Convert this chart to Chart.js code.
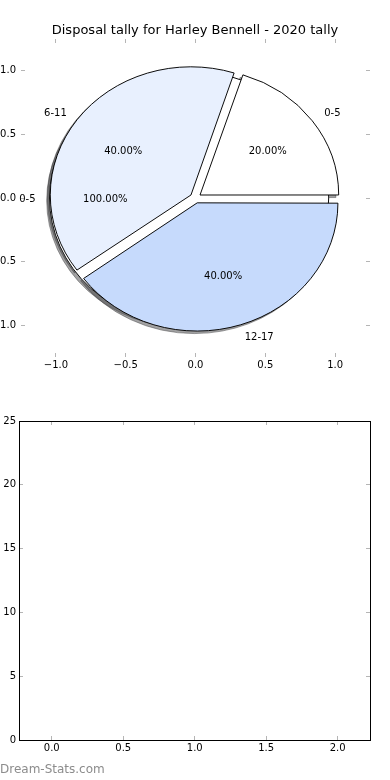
<!DOCTYPE html>
<html><head><meta charset="utf-8">
<script src="https://cdn.jsdelivr.net/npm/chart.js@4.4.1/dist/chart.umd.min.js"></script>
<style>
html,body{margin:0;padding:0;background:#fff;}
#wrap{position:relative;width:390px;height:780px;overflow:hidden;background:#fff;}
canvas{position:absolute;left:0;}
#wm{position:absolute;left:0;top:762px;font:12px "DejaVu Sans";color:#8c8c8c;white-space:nowrap;line-height:14px;}
</style></head><body>
<div id="wrap">
<canvas id="axesTop" width="390" height="400" style="top:0"></canvas>
<canvas id="pieBack" width="390" height="400" style="top:0"></canvas>
<canvas id="pieFront" width="390" height="400" style="top:0"></canvas>
<canvas id="bottom" width="390" height="380" style="top:400px"></canvas>
<div id="wm">Dream-Stats.com</div>
</div>
<script>
// ---------- data ----------
const chartTitle = 'Disposal tally for Harley Bennell - 2020 tally';
const ageGroups = ['0-5', '6-11', '12-17'];
const tallyShares = [20, 40, 40];
const overlayGroups = ['0-5'];
const overlayShares = [100];
const pieTickValues = [-1, -0.5, 0, 0.5, 1];
const pieTickLabels = ['\u22121.0', '\u22120.5', '0.0', '0.5', '1.0'];
const bottomXTickValues = [0, 0.5, 1, 1.5, 2];
const bottomXTickLabels = ['0.0', '0.5', '1.0', '1.5', '2.0'];
const bottomYTickValues = [0, 5, 10, 15, 20, 25];
const bottomYTickLabels = ['0', '5', '10', '15', '20', '25'];

// ---------- styles ----------
const sliceColors = ['#ffffff', '#e8f0fe', '#c6dafc'];
const sliceExplode = [0.04, 0.04, 0.04];
const overlayExplode = 0.046;
const pieLimits = [-1.25, 1.25];
const bottomXLimits = [-0.229, 2.226];
const bottomYLimits = [0, 25];
const FONT = {family: 'DejaVu Sans', size: 10};
Chart.defaults.font.family = 'DejaVu Sans';
Chart.defaults.color = '#000';

function scaleCfg(o) {
  return {
    type: 'linear', axis: o.axis, position: o.position, min: o.min, max: o.max,
    afterBuildTicks: s => { s.ticks = o.values.map(v => ({value: v})); },
    afterFit: s => { if (o.axis === 'x') s.height = o.size; else s.width = o.size; },
    ticks: {
      display: o.showLabels, font: FONT, color: '#000', padding: o.pad,
      maxRotation: 0, minRotation: 0, autoSkip: false,
      callback: v => { const i = o.values.indexOf(v); return i >= 0 ? o.labels[i] : ''; }
    },
    grid: {display: true, drawOnChartArea: false, drawTicks: true, tickLength: -4, tickColor: '#b5b5b5', tickWidth: 1},
    border: {display: o.border, color: '#000', width: 1}
  };
}

// ---------- top axes (pie frame) ----------
const axesTop = new Chart(document.getElementById('axesTop'), {
  type: 'scatter',
  data: {datasets: [{data: []}]},
  options: {
    responsive: false, animation: false, events: [],
    layout: {padding: 0},
    plugins: {
      legend: {display: false}, tooltip: {enabled: false},
      title: {display: true, text: chartTitle, color: '#000',
        font: {family: 'DejaVu Sans', size: 13, weight: 'normal', lineHeight: 1.2},
        padding: {top: 22.5, bottom: 0}}
    },
    scales: {
      x: scaleCfg({axis: 'x', position: 'bottom', min: pieLimits[0], max: pieLimits[1], values: pieTickValues, labels: pieTickLabels, showLabels: true, size: 43, pad: 6, border: false}),
      x2: scaleCfg({axis: 'x', position: 'top', min: pieLimits[0], max: pieLimits[1], values: pieTickValues, labels: pieTickLabels, showLabels: false, size: 0.9, pad: 0, border: false}),
      y: scaleCfg({axis: 'y', position: 'left', min: pieLimits[0], max: pieLimits[1], values: pieTickValues, labels: pieTickLabels, showLabels: true, size: 21, pad: 9, border: false}),
      y2: scaleCfg({axis: 'y', position: 'right', min: pieLimits[0], max: pieLimits[1], values: pieTickValues, labels: pieTickLabels, showLabels: false, size: 20, pad: 0, border: false})
    }
  }
});

const xs = axesTop.scales.x, ys = axesTop.scales.y;
const cx0 = xs.getPixelForValue(0), cy0 = ys.getPixelForValue(0);
const R = xs.getPixelForValue(1) - cx0;
const ky = (cy0 - ys.getPixelForValue(1)) / R;

function wedgePath(ctx, el, dx, dy) {
  const off = (el.options.offset || 0) / 4;
  const circ = el.endAngle - el.startAngle;
  const mid = (el.startAngle + el.endAngle) / 2;
  const r = el.outerRadius + off * (1 - Math.sin(Math.min(Math.PI, circ)));
  const x = el.x + Math.cos(mid) * off + dx, y = el.y + Math.sin(mid) * off + dy;
  ctx.beginPath();
  if (circ >= Math.PI * 2 - 1e-9) { ctx.arc(x, y, r, 0, Math.PI * 2); }
  else { ctx.moveTo(x, y); ctx.arc(x, y, r, el.startAngle, el.endAngle); ctx.closePath(); }
}

function drawPieLabels(ctx, chart, o) {
  const meta = chart.getDatasetMeta(0);
  const vals = chart.data.datasets[0].data;
  const total = vals.reduce((a, b) => a + b, 0);
  ctx.save();
  ctx.font = '10px "DejaVu Sans"'; ctx.fillStyle = '#000'; ctx.textBaseline = 'middle';
  meta.data.forEach((el, i) => {
    const mid = (el.startAngle + el.endAngle) / 2;
    const off = (el.options.offset || 0) / 4;
    const c = Math.cos(mid), s = Math.sin(mid);
    const Rl = o.labelRadius;
    const lx = el.x + c * (off + 1.1 * Rl), ly = el.y + o.ky * s * (off + 1.1 * Rl) + 1;
    ctx.textAlign = c > 0 ? 'left' : 'right';
    ctx.fillText(chart.data.labels[i], lx, ly);
    const px = el.x + c * (off + 0.6 * Rl), py = el.y + o.ky * s * (off + 0.6 * Rl) + 1;
    ctx.textAlign = 'center';
    ctx.fillText((vals[i] / total * 100).toFixed(2) + '%', px, py);
  });
  ctx.restore();
}

const mplPie = {
  id: 'mplPie',
  beforeDatasetsDraw(chart, args, o) {
    const ctx = chart.ctx;
    const meta = chart.getDatasetMeta(0);
    const cy = meta.data[0].y;
    ctx.save();
    ctx.translate(0, cy); ctx.scale(1, o.ky); ctx.translate(0, -cy);
    ctx.save();
    if (o.clipOutside) {
      const c = o.clipOutside();
      ctx.beginPath();
      ctx.rect(-2000, -2000, 5000, 5000);
      ctx.arc(c.x, c.y, c.r, 0, Math.PI * 2, true);
      ctx.clip();
    }
    ctx.fillStyle = o.shadowColor; ctx.strokeStyle = o.shadowColor; ctx.lineWidth = 1;
    meta.data.forEach(el => { wedgePath(ctx, el, -0.02 * o.labelRadius, 0.02 * o.labelRadius); ctx.fill(); ctx.stroke(); });
    ctx.restore();
  },
  afterDatasetsDraw(chart, args, o) {
    const ctx = chart.ctx;
    const meta = chart.getDatasetMeta(0);
    if (o.outline) {
      meta.data.forEach(el => { wedgePath(ctx, el, 0, 0); ctx.strokeStyle = '#000'; ctx.lineWidth = 1; ctx.stroke(); });
    }
    ctx.restore();
    if (o.labelCharts) {
      o.labelCharts().forEach(ch => drawPieLabels(ctx, ch, o));
    }
  }
};

function padFor(cx, cy, W, H) {
  const L = Math.max(0, 2 * cx - W), Rp = L + W - 2 * cx;
  const T = Math.max(0, 2 * cy - H), B = T + H - 2 * cy;
  return {left: L, right: Rp, top: T, bottom: B};
}

const shadowColor = 'rgba(70,70,72,0.5)';

// ---------- overlay single-wedge pie (behind) ----------
const backCx = xs.getPixelForValue(-overlayExplode);
const pieBack = new Chart(document.getElementById('pieBack'), {
  type: 'pie',
  data: {labels: overlayGroups, datasets: [{data: overlayShares, backgroundColor: '#ffffff', borderWidth: 0, clip: false}]},
  options: {
    responsive: false, animation: false, events: [],
    rotation: 90, radius: R,
    layout: {padding: padFor(backCx, cy0, 390, 400)},
    plugins: {legend: {display: false}, tooltip: {enabled: false}, title: {display: false},
      mplPie: {ky: ky, labelRadius: R, shadowColor: shadowColor, outline: true}}
  },
  plugins: [mplPie]
});

// ---------- main pie (front) ----------
const order = ageGroups.map((_, i) => i).reverse();
let pieFront;
pieFront = new Chart(document.getElementById('pieFront'), {
  type: 'pie',
  data: {
    labels: order.map(i => ageGroups[i]),
    datasets: [{
      data: order.map(i => tallyShares[i]),
      backgroundColor: order.map(i => sliceColors[i]),
      offset: order.map(i => sliceExplode[i] * R * 4),
      borderColor: '#000', borderWidth: 1, borderJoinStyle: 'miter', clip: false
    }]
  },
  options: {
    responsive: false, animation: false, events: [],
    rotation: 90, radius: R - 1.2,
    layout: {padding: padFor(cx0, cy0, 390, 400)},
    plugins: {legend: {display: false}, tooltip: {enabled: false}, title: {display: false},
      mplPie: {ky: ky, labelRadius: R, shadowColor: shadowColor, outline: false,
        labelCharts: () => [pieFront, pieBack].filter(Boolean),
        clipOutside: () => { const e = pieBack.getDatasetMeta(0).data[0]; return {x: e.x, y: e.y, r: e.outerRadius}; }}}
  },
  plugins: [mplPie]
});
pieFront.draw();

// ---------- bottom empty axes ----------
new Chart(document.getElementById('bottom'), {
  type: 'scatter',
  data: {datasets: [{data: []}]},
  options: {
    responsive: false, animation: false, events: [],
    layout: {padding: 0},
    plugins: {legend: {display: false}, tooltip: {enabled: false}},
    scales: {
      x: scaleCfg({axis: 'x', position: 'bottom', min: bottomXLimits[0], max: bottomXLimits[1], values: bottomXTickValues, labels: bottomXTickLabels, showLabels: true, size: 40, pad: 6, border: true}),
      x2: scaleCfg({axis: 'x', position: 'top', min: bottomXLimits[0], max: bottomXLimits[1], values: bottomXTickValues, labels: bottomXTickLabels, showLabels: false, size: 21, pad: 0, border: true}),
      y: scaleCfg({axis: 'y', position: 'left', min: bottomYLimits[0], max: bottomYLimits[1], values: bottomYTickValues, labels: bottomYTickLabels, showLabels: true, size: 19, pad: 7, border: true}),
      y2: scaleCfg({axis: 'y', position: 'right', min: bottomYLimits[0], max: bottomYLimits[1], values: bottomYTickValues, labels: bottomYTickLabels, showLabels: false, size: 20, pad: 0, border: true})
    }
  }
});
</script>
</body></html>
